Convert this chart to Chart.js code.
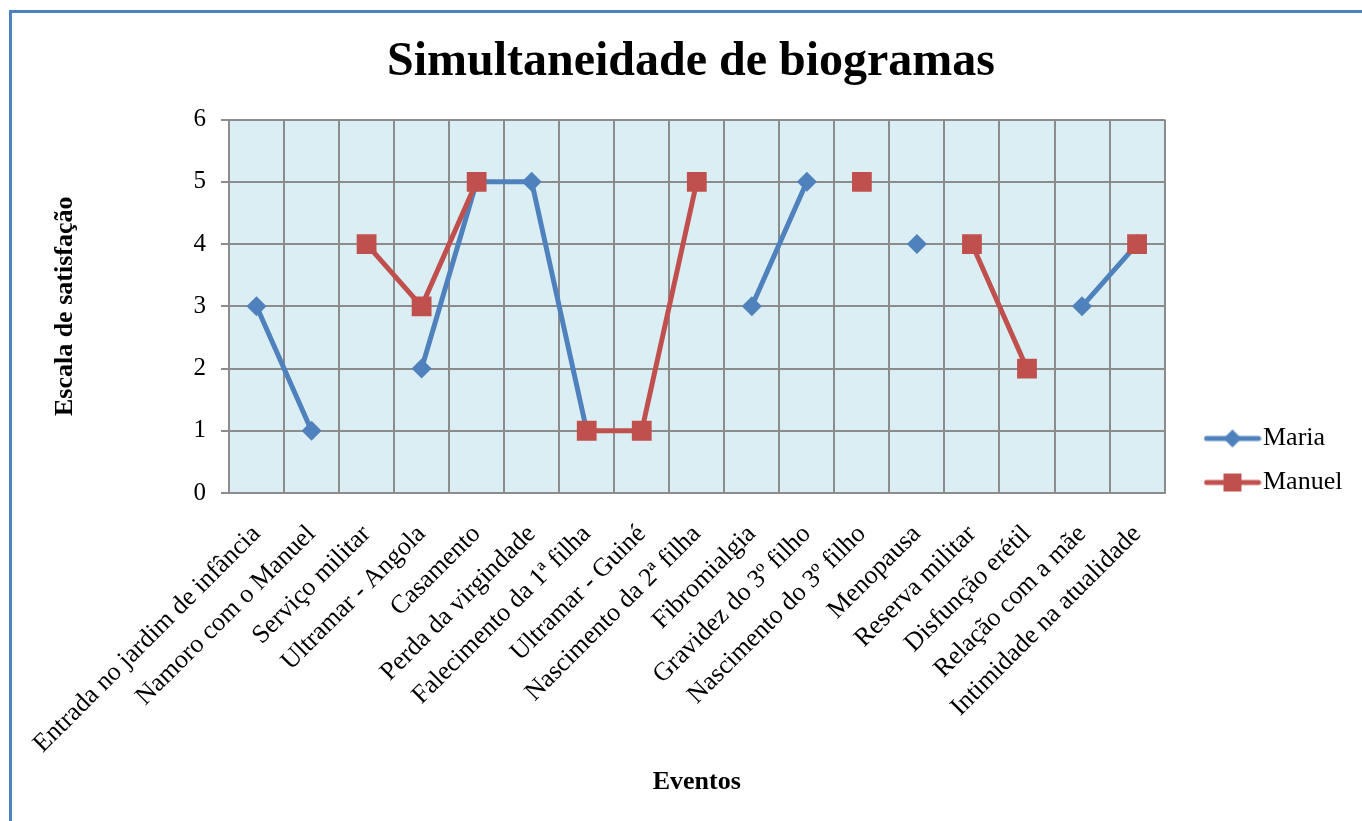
<!DOCTYPE html>
<html>
<head>
<meta charset="utf-8">
<script src="https://cdn.jsdelivr.net/npm/chart.js@4.4.1/dist/chart.umd.min.js"></script>
<style>
  html, body { margin: 0; padding: 0; background: #ffffff; }
  body { width: 1362px; height: 821px; position: relative; overflow: hidden; }
  #frame { position: absolute; left: 9px; top: 10px; width: 1400px; height: 900px; border-left: 3px solid #4F81BD; border-top: 3px solid #4F81BD; }
  #wrap { position: absolute; left: 0; top: 0; width: 1362px; height: 821px; }
</style>
</head>
<body>
<div id="frame"></div>
<div id="wrap"><canvas id="c" width="1362" height="821"></canvas></div>
<script>
const categories = [
  "Entrada no jardim de infância",
  "Namoro com o Manuel",
  "Serviço militar",
  "Ultramar - Angola",
  "Casamento",
  "Perda da virgindade",
  "Falecimento da 1ª filha",
  "Ultramar - Guiné",
  "Nascimento da 2ª filha",
  "Fibromialgia",
  "Gravidez do 3º filho",
  "Nascimento do 3º filho",
  "Menopausa",
  "Reserva militar",
  "Disfunção erétil",
  "Relação com a mãe",
  "Intimidade na atualidade"
];
const maria  = [3, 1, null, 2, 5, 5, 1, null, null, 3, 5, null, 4, null, null, 3, 4];
const manuel = [null, null, 4, 3, 5, null, 1, 1, 5, null, null, 5, null, 4, 2, null, 4];
const yTicks = [0, 1, 2, 3, 4, 5, 6];

const BLUE = '#4F81BD';
const RED = '#C0504D';
const SERIF = "'Liberation Serif', 'Times New Roman', serif";

function legendIcon(color, shape) {
  const c = document.createElement('canvas');
  c.width = 58; c.height = 24;
  const g = c.getContext('2d');
  g.strokeStyle = color; g.lineWidth = 5; g.lineCap = 'round';
  g.beginPath(); g.moveTo(3, 12); g.lineTo(55, 12); g.stroke();
  g.fillStyle = color;
  if (shape === 'diamond') {
    g.beginPath(); g.moveTo(29, 3); g.lineTo(38, 12); g.lineTo(29, 21); g.lineTo(20, 12); g.closePath(); g.fill();
  } else {
    g.fillRect(20, 3, 18, 18);
  }
  return c;
}
const icons = [legendIcon(BLUE, 'diamond'), legendIcon(RED, 'square')];

const plotBg = {
  id: 'plotBg',
  beforeDraw(chart) {
    const a = chart.chartArea, ctx = chart.ctx;
    ctx.save(); ctx.fillStyle = '#DBEEF3';
    ctx.fillRect(a.left, a.top, a.right - a.left, a.bottom - a.top);
    ctx.restore();
  }
};
const boxPlace = {
  id: 'boxPlace',
  afterLayout(chart) {
    const lg = chart.legend;
    if (lg) {
      const w = lg.width;
      lg.left = 1197; lg.right = lg.left + w;
      lg.top = 100; lg.bottom = 821; lg.height = lg.bottom - lg.top;
    }
    const tb = chart.titleBlock;
    if (tb) {
      tb.left = 20; tb.right = 1362; tb.width = tb.right - tb.left;
    }
  }
};

new Chart(document.getElementById('c'), {
  type: 'line',
  data: {
    labels: categories,
    datasets: [
      { label: 'Maria', data: maria, borderColor: BLUE, backgroundColor: BLUE,
        borderWidth: 5, pointStyle: 'rectRot', pointRadius: 10, pointHoverRadius: 10,
        pointBorderWidth: 0, pointBackgroundColor: BLUE, spanGaps: false, order: 2, tension: 0 },
      { label: 'Manuel', data: manuel, borderColor: RED, backgroundColor: RED,
        borderWidth: 5, pointStyle: 'rect', pointRadius: 14, pointHoverRadius: 14,
        pointBorderWidth: 0, pointBackgroundColor: RED, spanGaps: false, order: 1, tension: 0 }
    ]
  },
  options: {
    responsive: false,
    animation: false,
    layout: { padding: { left: 20, right: 42, top: 0, bottom: 0 } },
    plugins: {
      title: {
        display: true, text: 'Simultaneidade de biogramas', color: '#000',
        font: { family: SERIF, size: 48, weight: 'bold' },
        padding: { top: 34, bottom: 28 }
      },
      legend: {
        position: 'right',
        labels: {
          color: '#000', font: { family: SERIF, size: 26 },
          usePointStyle: true, pointStyleWidth: 35, padding: 18,
          sort: (a, b) => a.datasetIndex - b.datasetIndex,
          generateLabels(chart) {
            const items = Chart.defaults.plugins.legend.labels.generateLabels(chart);
            items.forEach(it => { it.pointStyle = icons[it.datasetIndex]; });
            return items;
          }
        }
      },
      tooltip: { enabled: false }
    },
    scales: {
      x: {
        offset: true,
        grid: { offset: true, color: '#8C8C8C', lineWidth: 2, drawTicks: false },
        border: { color: '#8C8C8C', width: 2 },
        ticks: { color: '#000', font: { family: SERIF, size: 26 }, minRotation: 45, maxRotation: 45, autoSkip: false, padding: 26 },
        title: { display: true, text: 'Eventos', color: '#000', font: { family: SERIF, size: 26, weight: 'bold' }, padding: { top: 0, bottom: 23 } },
        afterFit(s) { s.height = 821 - 493; }
      },
      y: {
        min: 0, max: 6,
        afterBuildTicks(s) { s.ticks = yTicks.map(v => ({ value: v })); },
        grid: { color: '#8C8C8C', lineWidth: 2, tickLength: 8 },
        border: { color: '#8C8C8C', width: 2 },
        ticks: { color: '#000', font: { family: SERIF, size: 25 }, padding: 15 },
        title: { display: true, text: 'Escala de satisfação', color: '#000', font: { family: SERIF, size: 26, weight: 'bold' }, padding: { top: 30, bottom: 0 } },
        afterFit(s) { s.width = 229 - 20; }
      }
    }
  },
  plugins: [plotBg, boxPlace]
});
</script>
</body>
</html>
